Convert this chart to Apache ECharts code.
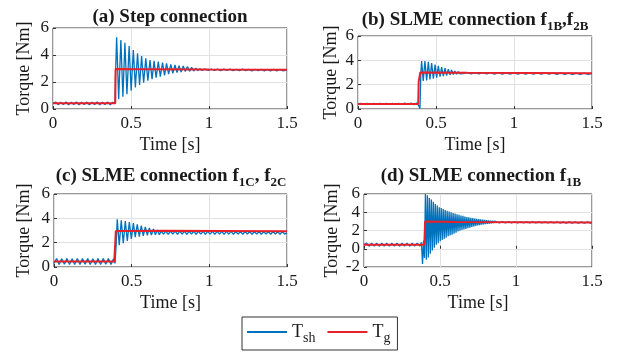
<!DOCTYPE html>
<html>
<head>
<meta charset="utf-8">
<script src="https://cdn.jsdelivr.net/npm/echarts@6/dist/echarts.min.js"></script>
<style>
  html, body { margin: 0; padding: 0; background: #fff; }
  #chart { width: 620px; height: 352px; }
</style>
</head>
<body>
<div id="chart"></div>
<script>
// [time s, torque Nm]
const aSh = [[0,0.42],[0.017,0.52],[0.033,0.32],[0.05,0.5],[0.067,0.34],[0.083,0.52],[0.1,0.32],[0.117,0.5],[0.133,0.33],[0.15,0.52],[0.167,0.32],[0.183,0.5],[0.2,0.34],[0.217,0.51],[0.233,0.32],[0.25,0.5],[0.267,0.33],[0.283,0.52],[0.3,0.32],[0.317,0.5],[0.333,0.34],[0.35,0.51],[0.367,0.32],[0.383,0.5],[0.398,0.42],[0.402,3.0],
  [0.408,5.31],[0.421,0.72],[0.435,5.11],[0.448,0.91],[0.461,4.91],[0.474,1.1],[0.488,4.67],[0.501,1.35],[0.515,4.37],[0.528,1.6],[0.542,4.12],[0.555,1.78],[0.568,3.93],[0.581,1.95],[0.595,3.75],[0.608,2.1],[0.622,3.63],[0.635,2.2],[0.648,3.56],[0.661,2.32],[0.675,3.51],[0.688,2.4],[0.702,3.43],[0.715,2.49],[0.728,3.38],[0.741,2.59],[0.755,3.31],[0.768,2.64],[0.782,3.26],[0.795,2.69],[0.808,3.21],[0.821,2.74],[0.835,3.19],[0.848,2.77],[0.862,3.14],[0.875,2.79],[0.889,3.09],[0.902,2.81],[0.915,3.02],[0.928,2.84],[0.942,2.98],[0.955,2.86],
  [0.975,2.96],[0.995,2.85],[1.015,2.96],[1.035,2.85],[1.055,2.95],[1.075,2.84],[1.095,2.95],[1.115,2.85],[1.135,2.95],[1.155,2.84],[1.175,2.94],[1.195,2.84],[1.215,2.95],[1.235,2.84],[1.255,2.94],[1.275,2.83],[1.295,2.94],[1.315,2.84],[1.335,2.94],[1.355,2.83],[1.375,2.93],[1.395,2.83],[1.415,2.93],[1.435,2.83],[1.455,2.93],[1.475,2.83],[1.5,2.9]];
const aG = [[0,0.42],[0.399,0.42],[0.401,2.97],[0.6,2.95],[1.0,2.92],[1.5,2.9]];

const bSh = [[0,0.44],[0.02,0.47],[0.04,0.38],[0.06,0.47],[0.08,0.38],[0.1,0.47],[0.12,0.38],[0.14,0.47],[0.16,0.38],[0.18,0.47],[0.2,0.38],[0.22,0.47],[0.24,0.38],[0.26,0.47],[0.28,0.38],[0.3,0.48],[0.32,0.37],[0.34,0.48],[0.36,0.36],[0.375,0.5],[0.388,0.3],[0.397,0.05],[0.403,3.0],
  [0.408,3.94],[0.418,2.3],[0.429,3.94],[0.44,2.35],[0.451,3.88],[0.461,2.42],[0.472,3.78],[0.483,2.5],[0.494,3.66],[0.504,2.58],[0.515,3.55],[0.526,2.65],[0.536,3.45],[0.547,2.7],[0.558,3.35],[0.568,2.75],[0.579,3.28],[0.59,2.8],[0.6,3.2],[0.611,2.84],[0.621,3.12],[0.632,2.87],[0.643,3.07],[0.654,2.89],[0.664,3.03],[0.675,2.9],
  [0.7,2.99],[0.725,2.88],[0.75,2.99],[0.775,2.88],[0.8,2.98],[0.825,2.88],[0.85,2.98],[0.875,2.87],[0.9,2.98],[0.925,2.87],[0.95,2.97],[0.975,2.87],[1.0,2.97],[1.025,2.87],[1.05,2.97],[1.075,2.86],[1.1,2.97],[1.125,2.86],[1.15,2.96],[1.175,2.86],[1.2,2.96],[1.225,2.86],[1.25,2.96],[1.275,2.85],[1.3,2.96],[1.325,2.85],[1.35,2.95],[1.375,2.85],[1.4,2.95],[1.425,2.85],[1.45,2.95],[1.475,2.85],[1.5,2.92]];
const bG = [[0,0.42],[0.386,0.42],[0.389,2.25],[0.396,2.3],[0.399,3.0],[0.7,2.97],[1.5,2.93]];

const cSh = [[0,0.3],[0.017,0.7],[0.033,0.2],[0.05,0.68],[0.067,0.22],[0.083,0.7],[0.1,0.2],[0.117,0.68],[0.133,0.21],[0.15,0.7],[0.167,0.2],[0.183,0.69],[0.2,0.22],[0.217,0.7],[0.233,0.2],[0.25,0.68],[0.267,0.21],[0.283,0.7],[0.3,0.2],[0.317,0.69],[0.333,0.22],[0.35,0.7],[0.367,0.2],[0.383,0.68],[0.393,0.3],[0.4,1.8],
  [0.407,3.92],[0.42,1.8],[0.433,3.84],[0.446,1.95],[0.459,3.78],[0.472,2.15],[0.485,3.7],[0.498,2.3],[0.511,3.6],[0.523,2.45],[0.536,3.5],[0.549,2.5],[0.562,3.4],[0.575,2.55],[0.588,3.3],[0.601,2.6],[0.614,3.22],[0.627,2.62],[0.64,3.12],[0.653,2.64],[0.665,3.05],[0.678,2.66],
  [0.69,2.95],[0.705,2.7],[0.72,2.95],[0.735,2.68],[0.75,2.94],[0.765,2.7],[0.78,2.95],[0.795,2.68],[0.81,2.94],[0.825,2.7],[0.84,2.94],[0.855,2.68],[0.87,2.94],[0.885,2.7],[0.9,2.94],[0.915,2.68],[0.93,2.94],[0.945,2.7],[0.96,2.93],[0.975,2.68],[0.99,2.93],[1.005,2.7],[1.02,2.93],[1.035,2.68],[1.05,2.93],[1.065,2.7],[1.08,2.93],[1.095,2.68],[1.11,2.93],[1.125,2.7],[1.14,2.93],[1.155,2.68],[1.17,2.92],[1.185,2.7],[1.2,2.92],[1.215,2.68],[1.23,2.92],[1.245,2.7],[1.26,2.92],[1.275,2.68],[1.29,2.92],[1.305,2.7],[1.32,2.92],[1.335,2.68],[1.35,2.92],[1.365,2.7],[1.38,2.92],[1.395,2.68],[1.41,2.92],[1.425,2.7],[1.44,2.92],[1.455,2.68],[1.47,2.92],[1.485,2.7],[1.5,2.8]];
const cG = [[0,0.45],[0.388,0.45],[0.398,2.96],[0.406,3.0],[0.7,2.97],[1.5,2.93]];

const dSh = [[0,0.45],[0.017,0.62],[0.033,0.28],[0.05,0.6],[0.067,0.3],[0.083,0.62],[0.1,0.28],[0.117,0.6],[0.133,0.3],[0.15,0.62],[0.167,0.28],[0.183,0.6],[0.2,0.3],[0.217,0.62],[0.233,0.28],[0.25,0.6],[0.267,0.3],[0.283,0.62],[0.3,0.28],[0.317,0.6],[0.333,0.3],[0.35,0.62],[0.367,0.28],[0.378,0.7],[0.385,-1.67],[0.392,0.9],[0.398,-1.0],
  [0.404,6.0],[0.4105,-1.2],[0.417,5.85],[0.4235,-0.95],[0.43,5.56],[0.4365,-0.55],[0.443,5.4],[0.4495,-0.2],[0.456,5.15],[0.4625,0.1],[0.469,4.9],[0.4755,0.44],[0.482,4.75],[0.4885,0.6],[0.495,4.55],[0.5015,0.82],[0.508,4.45],[0.5145,0.95],[0.521,4.35],[0.5275,1.08],[0.534,4.25],[0.5405,1.2],[0.547,4.15],[0.5535,1.36],[0.56,4.08],[0.5665,1.45],[0.573,4.0],[0.5795,1.55],[0.586,3.92],[0.5925,1.65],[0.599,3.85],[0.6055,1.75],[0.612,3.78],[0.6185,1.9],[0.625,3.72],[0.6315,1.97],[0.638,3.65],[0.6445,2.05],[0.651,3.6],[0.6575,2.12],[0.664,3.53],[0.6705,2.18],[0.677,3.48],[0.6835,2.25],[0.69,3.44],[0.6965,2.32],[0.703,3.4],[0.7095,2.38],[0.716,3.36],[0.7225,2.44],[0.729,3.32],[0.7355,2.5],[0.742,3.28],[0.7485,2.56],[0.755,3.25],[0.7615,2.6],[0.768,3.22],[0.7745,2.63],[0.781,3.2],[0.7875,2.66],[0.794,3.16],[0.8005,2.7],[0.807,3.13],[0.8135,2.73],[0.82,3.1],[0.8265,2.76],[0.833,3.08],[0.8395,2.79],[0.846,3.06],[0.8525,2.82],[0.859,3.04],
  [0.87,2.98],[0.89,2.84],[0.91,2.97],[0.93,2.84],[0.95,2.97],[0.97,2.84],[0.99,2.96],[1.01,2.83],[1.03,2.96],[1.05,2.83],[1.07,2.96],[1.09,2.83],[1.11,2.96],[1.13,2.83],[1.15,2.95],[1.17,2.83],[1.19,2.95],[1.21,2.82],[1.23,2.95],[1.25,2.82],[1.27,2.95],[1.29,2.82],[1.31,2.94],[1.33,2.82],[1.35,2.94],[1.37,2.82],[1.39,2.94],[1.41,2.82],[1.43,2.94],[1.45,2.82],[1.47,2.94],[1.49,2.82],[1.5,2.88]];
const dG = [[0,0.45],[0.397,0.45],[0.402,2.98],[0.6,2.93],[1.5,2.88]];

const titles = [
  '{m|(a) Step connection}',
  '{m|(b) SLME connection f}{s|1B}{m|,f}{s|2B}',
  '{m|(c) SLME connection f}{s|1C}{m|, f}{s|2C}',
  '{m|(d) SLME connection f}{s|1B}'
];
const yMins = [0, 0, 0, -2];

const font = '"Liberation Serif", "Times New Roman", serif';
const ink = '#1a1a1a';
const blue = '#0072bd';
const red = '#e8202a';

// plot boxes measured on the reference
const boxes = [
  { left: 53, top: 28, width: 234, height: 81, cx: 170, ty: 8, yGap: 20 },
  { left: 358, top: 36, width: 234, height: 73, cx: 475, ty: 8, yGap: 18 },
  { left: 54, top: 194, width: 233, height: 73, cx: 171, ty: 164, yGap: 21 },
  { left: 364, top: 194, width: 228, height: 73, cx: 481, ty: 164, yGap: 23 }
];
const shData = [aSh, bSh, cSh, dSh];
const gData = [aG, bG, cG, dG];

const richTitle = {
  m: { fontFamily: font, fontSize: 19, fontWeight: 'bold', color: ink },
  s: { fontFamily: font, fontSize: 13, fontWeight: 'bold', color: ink, padding: [12, 0, 0, 0], verticalAlign: 'bottom' }
};

const chart = echarts.init(document.getElementById('chart'));
chart.setOption({
  animation: false,
  backgroundColor: '#fff',
  title: boxes.map((b, i) => ({
    text: titles[i],
    left: b.cx,
    top: b.ty,
    textAlign: 'center',
    padding: 0,
    textStyle: { rich: richTitle }
  })),
  grid: boxes.map(b => ({
    left: b.left, top: b.top, width: b.width, height: b.height,
    show: true, borderColor: '#333', borderWidth: 1, backgroundColor: '#fff',
    outerBoundsMode: 'none'
  })),
  xAxis: boxes.map((b, i) => ({
    type: 'value', gridIndex: i, min: 0, max: 1.5, interval: 0.5,
    name: 'Time [s]', nameLocation: 'middle', nameGap: 27,
    nameTextStyle: { fontFamily: font, fontSize: 18, color: ink },
    axisLine: { show: false },
    axisTick: { inside: true, length: 3, lineStyle: { color: '#333' } },
    axisLabel: { fontFamily: font, fontSize: 17, color: ink, margin: 6 },
    splitLine: { lineStyle: { color: '#e2e2e2' } }
  })),
  yAxis: boxes.map((b, i) => ({
    type: 'value', gridIndex: i, min: yMins[i], max: 6, interval: 2,
    name: 'Torque [Nm]', nameLocation: 'middle', nameGap: b.yGap,
    nameTextStyle: { fontFamily: font, fontSize: 18, color: ink },
    axisLine: { show: false },
    axisTick: { inside: true, length: 3, lineStyle: { color: '#333' } },
    axisLabel: { fontFamily: font, fontSize: 17, color: ink, margin: 4 },
    splitLine: { lineStyle: { color: '#e2e2e2' } }
  })),
  legend: {
    data: ['T_sh', 'T_g'],
    left: 242, top: 317,
    icon: 'rect', itemWidth: 40, itemHeight: 2, itemGap: 12,
    borderColor: '#333', borderWidth: 1, padding: [6, 7, 5, 5],
    formatter: n => n === 'T_sh' ? '{m|T}{s|sh}' : '{m|T}{s|g}',
    textStyle: {
      color: ink,
      rich: {
        m: { fontFamily: font, fontSize: 18, color: ink },
        s: { fontFamily: font, fontSize: 14, color: ink, padding: [12, 0, 0, 0], verticalAlign: 'bottom' }
      }
    }
  },
  series: [
    ...shData.map((d, i) => ({
      name: 'T_sh', type: 'line', xAxisIndex: i, yAxisIndex: i, data: d,
      showSymbol: false, symbol: 'none', z: 2,
      lineStyle: { color: blue, width: 1.3 }, itemStyle: { color: blue }
    })),
    ...gData.map((d, i) => ({
      name: 'T_g', type: 'line', xAxisIndex: i, yAxisIndex: i, data: d,
      showSymbol: false, symbol: 'none', z: 3,
      lineStyle: { color: red, width: 2 }, itemStyle: { color: red }
    }))
  ]
});
</script>
</body>
</html>
